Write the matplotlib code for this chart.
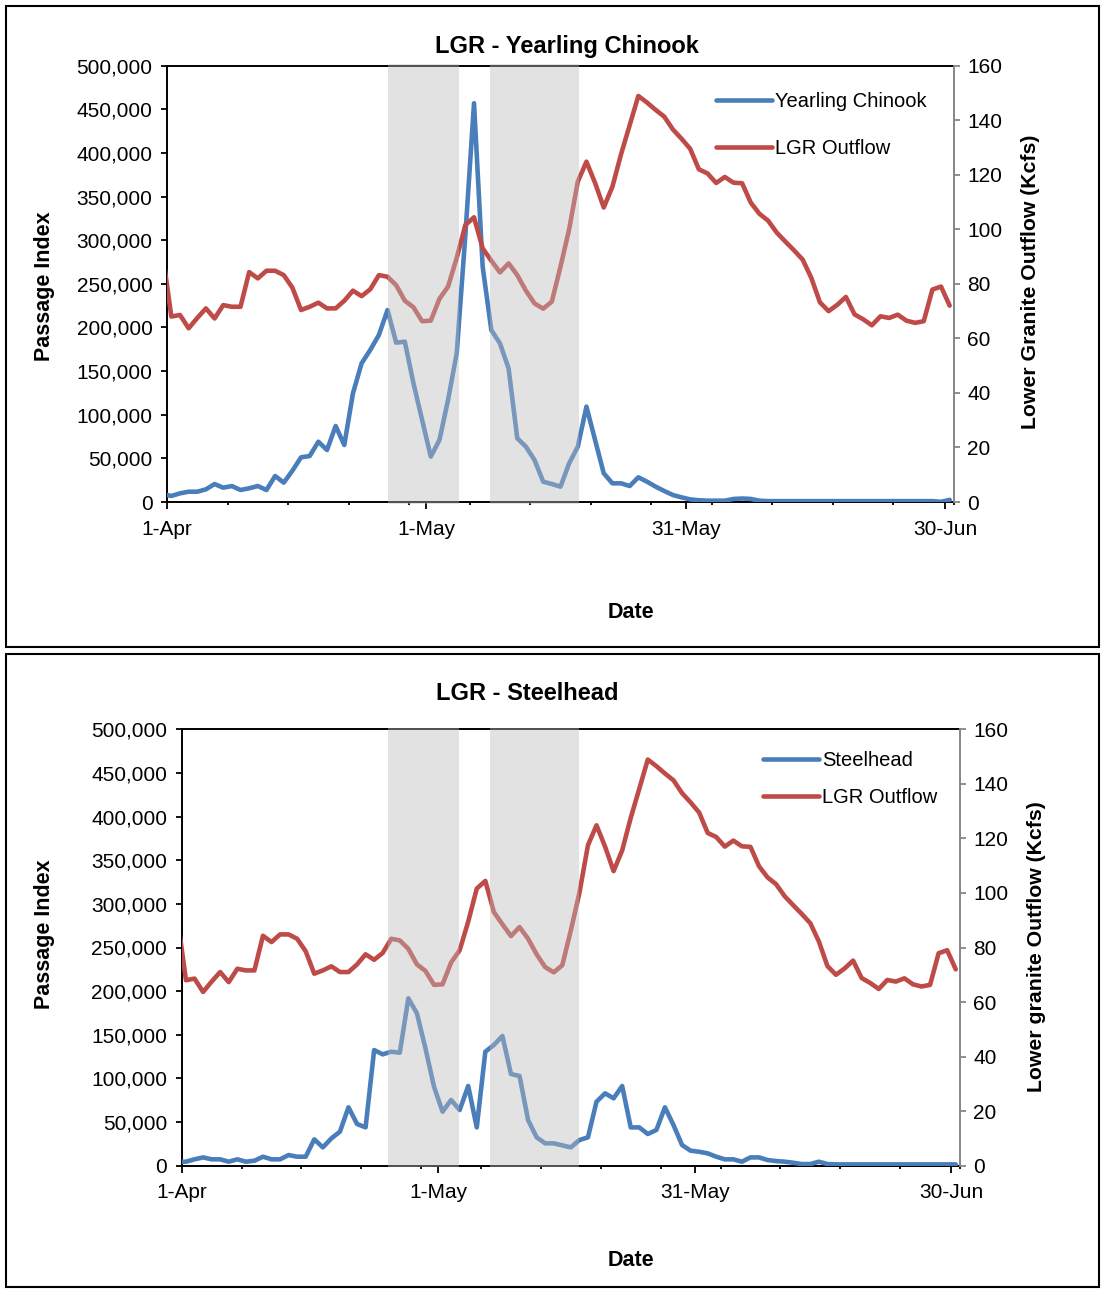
import numpy as np
import pandas as pd
import matplotlib
matplotlib.use('Agg')
import matplotlib.pyplot as plt
import matplotlib.dates as mdates
from matplotlib.ticker import FuncFormatter, MultipleLocator, FixedLocator
from matplotlib.patches import Rectangle

plt.rcParams['font.family'] = ['Liberation Sans', 'DejaVu Sans']

# ---------------- data ----------------
dates = pd.date_range('2011-03-31', '2011-06-30', freq='D')  # daily values

outflow = [91, 68.0, 68.6, 63.7, 67.5, 71.0, 67.3, 72.2, 71.6, 71.6,
           84.3, 82.0, 84.8, 84.8, 83.2, 78.6, 70.4, 71.6, 73.1, 71.0,
           71.0, 73.8, 77.5, 75.5, 78.0, 83.2, 82.6, 79.5, 73.8, 71.4,
           66.3, 66.5, 74.5, 79.0, 89.5, 101.6, 104.4, 93.0, 88.5, 84.2,
           87.5, 83.2, 77.5, 72.8, 70.9, 73.5, 86.3, 100.0, 117.5, 124.8,
           117.0, 108.0, 115.6, 127.5, 138.2, 148.9, 146.5, 143.8, 141.3, 136.6,
           133.2, 129.5, 122.0, 120.5, 117.0, 119.2, 117.1, 116.9, 109.8, 105.7,
           103.2, 98.8, 95.5, 92.3, 88.9, 82.2, 73.2, 70.0, 72.3, 75.2,
           68.8, 67.0, 64.8, 68.1, 67.5, 68.7, 66.5, 65.7, 66.3, 77.9,
           79.0, 72.0]

chinook = [9000, 6900, 9900, 11800, 11800, 14500, 20600, 16400, 18300, 13750,
           15700, 18300, 13750, 29800, 22200, 35900, 51200, 52700, 69100, 59600,
           87100, 65300, 124500, 158900, 174200, 191400, 220000, 182600, 183700, 136000,
           94000, 52000, 71000, 117000, 170400, 306000, 457000, 269700, 197000, 181800,
           153000, 73000, 63400, 48100, 23300, 20600, 17600, 44300, 63400, 109300,
           71000, 32900, 21400, 21400, 18300, 28300, 23300, 17600, 12600, 8000,
           5300, 3000, 2000, 1500, 1500, 1500, 3500, 4000, 3500, 1500,
           1000, 1000, 1000, 1000, 1000, 1000, 1000, 1000, 1000, 1000,
           1000, 1000, 1000, 1000, 1000, 1000, 1000, 1000, 1000, 1000,
           200, 2500]

steelhead = [4600, 4600, 7300, 9500, 7300, 7300, 4600, 7300, 4600, 5700,
             10300, 7300, 7300, 12200, 10300, 10300, 30200, 21000, 31300, 39000,
             66900, 47800, 43900, 132500, 127600, 130600, 129500, 191800, 174600, 134500,
             90500, 61900, 75300, 63800, 91300, 43900, 130600, 138300, 148600, 105000,
             102800, 52300, 32500, 25600, 25600, 23300, 21000, 29400, 32500, 73300,
             82900, 77200, 91300, 43900, 43900, 36300, 40900, 66900, 46600, 23700,
             17200, 16000, 14100, 10300, 7300, 7300, 4600, 9500, 9500, 6500,
             5300, 4600, 3400, 1900, 1900, 4600, 1900, 1500, 1500, 1500,
             1500, 1500, 1500, 1500, 1500, 1500, 1500, 1500, 1500, 1500,
             1500, 1500]

titles = ['LGR - Yearling Chinook', 'LGR - Steelhead']
fish_names = ['Yearling Chinook', 'Steelhead']
right_labels = ['Lower Granite Outflow (Kcfs)', 'Lower granite Outflow (Kcfs)']
label_dates = ['2011-04-01', '2011-05-01', '2011-05-31', '2011-06-30']
# shaded periods (days after 1-Apr)
shades = [[(25.55, 33.76), (37.34, 47.6)],
          [(24.16, 32.42), (36.05, 46.42)]]

# ---------------- styling ----------------
W, H = 1102, 1290
BLUE = '#4a7ebb'
RED = '#be4b48'
GRAYSPINE = '#868686'

fig = plt.figure(figsize=(W / 100, H / 100), dpi=100)


def rect(l, t, r, b):
    return [l / W, 1 - b / H, (r - l) / W, (b - t) / H]


axes_px = [(167, 65.7, 954, 502), (181.7, 729.3, 960, 1165.7)]
title_px = [(567, 46), (527, 694)]
date_px = [(631, 612), (631, 1260)]
ylab_px = [(45, 286), (45, 934)]
rlab_px = [(1030, 282), (1036, 947)]
leg_anchor = [(0.6976, 0.939), (0.7469, 0.951)]
leg_spacing = [1.36, 0.9]
panel_px = [(6, 6, 1099, 646.5), (6, 654, 1099, 1287)]

start = pd.Timestamp('2011-04-01')
end = pd.Timestamp('2011-07-01')
xpos = dates + pd.Timedelta(hours=12)
fish_series = [chinook, steelhead]
LW = 3.3

for k in range(2):
    ax = fig.add_axes(rect(*axes_px[k]))
    ax.plot(xpos, fish_series[k], color=BLUE, lw=LW, solid_joinstyle='round',
            solid_capstyle='round', zorder=3)
    ax.set_xlim(start, end)
    ax.set_ylim(0, 500000)
    ax.yaxis.set_major_locator(MultipleLocator(50000))
    ax.yaxis.set_major_formatter(FuncFormatter(lambda v, p: f'{v:,.0f}'))

    ax.xaxis.set_major_locator(FixedLocator(mdates.date2num(pd.to_datetime(label_dates))))
    ax.xaxis.set_major_formatter(mdates.DateFormatter('%-d-%b'))
    ax.xaxis.set_minor_locator(FixedLocator(mdates.date2num(pd.date_range(start, end, freq='7D'))))

    ax.tick_params(axis='both', which='major', direction='out', width=1.3,
                   labelsize=15, colors='black')
    ax.tick_params(axis='y', length=4.5, pad=6)
    ax.tick_params(axis='x', which='major', length=4.8, pad=8)
    ax.tick_params(axis='x', which='minor', length=2.5, width=1.3)
    for s in ['left', 'top', 'bottom']:
        ax.spines[s].set_linewidth(1.4)
        ax.spines[s].set_color('black')
    ax.spines['right'].set_visible(False)

    ax2 = ax.twinx()
    ax2.plot(xpos, outflow, color=RED, lw=LW, solid_joinstyle='round',
             solid_capstyle='round', zorder=3)
    ax2.set_ylim(0, 160)
    ax2.set_xlim(start, end)
    ax2.yaxis.set_major_locator(MultipleLocator(20))
    ax2.tick_params(axis='y', direction='out', length=4.5, width=1.3, color=GRAYSPINE,
                    labelcolor='black', labelsize=15, pad=5)
    for s in ['left', 'top', 'bottom']:
        ax2.spines[s].set_visible(False)
    ax2.spines['right'].set_color(GRAYSPINE)
    ax2.spines['right'].set_linewidth(1.4)

    for (a, b) in shades[k]:
        ax2.axvspan(start + pd.Timedelta(days=a), start + pd.Timedelta(days=b),
                    ymin=-0.004, ymax=1.004, clip_on=False,
                    facecolor='#bcbcbc', alpha=0.42, lw=0, zorder=10)

    h1, = ax.plot([], [], color=BLUE, lw=LW, solid_capstyle='round')
    h2, = ax2.plot([], [], color=RED, lw=LW, solid_capstyle='round')
    leg = ax2.legend([h1, h2], [fish_names[k], 'LGR Outflow'], loc='upper left',
                     bbox_to_anchor=leg_anchor[k], frameon=False, fontsize=14.5,
                     handlelength=2.8, handletextpad=0.15, labelspacing=leg_spacing[k],
                     borderpad=0, borderaxespad=0)
    leg.set_zorder(20)

    fig.text(title_px[k][0] / W, 1 - title_px[k][1] / H, titles[k], ha='center',
             va='center', fontsize=17, fontweight='bold')
    fig.text(date_px[k][0] / W, 1 - date_px[k][1] / H, 'Date', ha='center',
             va='center', fontsize=15.5, fontweight='bold')
    fig.text(ylab_px[k][0] / W, 1 - ylab_px[k][1] / H, 'Passage Index', ha='center',
             va='center', rotation=90, fontsize=15.5, fontweight='bold')
    fig.text(rlab_px[k][0] / W, 1 - rlab_px[k][1] / H, right_labels[k], ha='center',
             va='center', rotation=90, fontsize=15.3, fontweight='bold')

    l, t, r, b = panel_px[k]
    fig.add_artist(Rectangle((l / W, 1 - b / H), (r - l) / W, (b - t) / H,
                             transform=fig.transFigure, fill=False, lw=1.5,
                             edgecolor='black'))

fig.savefig('out.png', dpi=100)
